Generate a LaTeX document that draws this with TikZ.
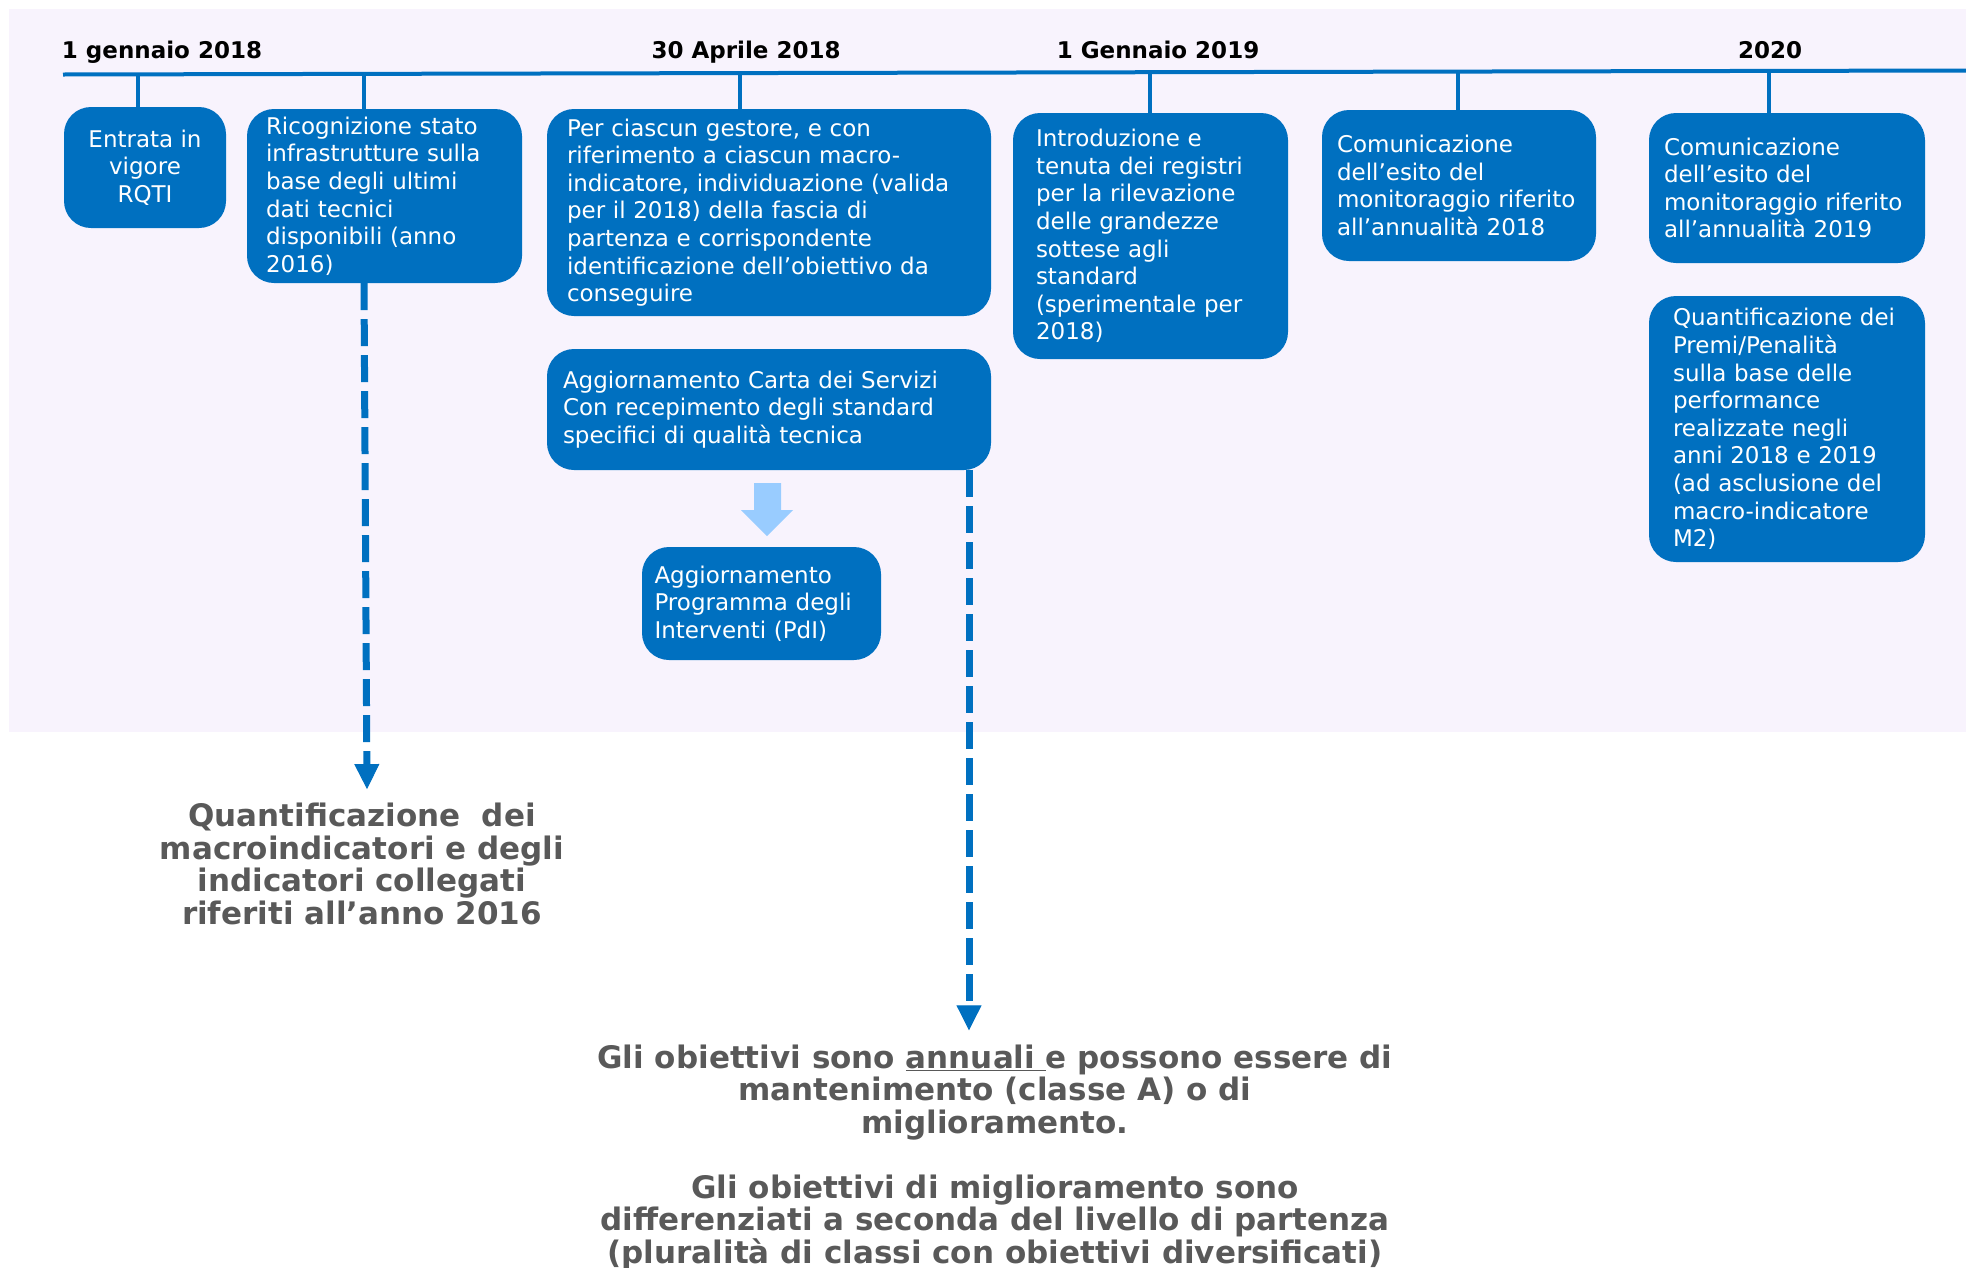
\documentclass[tikz,border=0pt]{standalone}
\usepackage{fontspec}
\setmainfont{DejaVu Sans}
\usetikzlibrary{arrows.meta,positioning}
\definecolor{boxblue}{HTML}{0070C0}
\definecolor{paleback}{HTML}{F8F3FD}
\definecolor{lightarrow}{HTML}{99CCFF}
\definecolor{notegray}{HTML}{595959}

\begin{document}
\begin{tikzpicture}[x=1pt, y=-1pt,
    evbox/.style={rectangle, rounded corners=27, fill=boxblue, text=white,
        inner sep=0pt, align=left, font=\fontsize{23}{27.6}\selectfont},
    datelabel/.style={anchor=base, font=\bfseries\fontsize{23}{27}\selectfont},
    tickline/.style={draw=boxblue, line width=4},
    dasharrow/.style={draw=boxblue, line width=7, dash pattern=on 27pt off 9pt,
        -{Triangle[width=25pt, length=25pt, line width=1pt]}},
    note/.style={text=notegray, align=center, inner sep=14pt,
        font=\bfseries\fontsize{31}{32.5}\selectfont}]

    % background
    \useasboundingbox (0,0) rectangle (1966,1267);
    \fill[paleback] (9,9) rectangle (1966,732);

    % timeline
    \coordinate (tl0) at (63,74.5);
    \coordinate (tl1) at (1966,70.5);
    \draw[tickline] (tl0) -- (tl1);

    \node (d18) [datelabel] at (162,58) {1 gennaio 2018};
    \node (apr18) [datelabel] at (746,58) {30 Aprile 2018};
    \node (gen19) [datelabel] at (1158,58) {1 Gennaio 2019};
    \node (y20) [datelabel] at (1770,58) {2020};

    % events
    \node (rqti) [evbox, align=center, minimum width=162, minimum height=121] at (145,167.5)
        {Entrata in\\vigore\\RQTI};
    \node (ricog) [evbox, minimum width=275, minimum height=174, text width=237] at (384.5,196)
        {Ricognizione stato\\infrastrutture sulla\\base degli ultimi\\dati tecnici\\disponibili (anno\\2016)};
    \node (fascia) [evbox, minimum width=444, minimum height=207, text width=404] at (769,212.5)
        {Per ciascun gestore, e con\\riferimento a ciascun macro-\\indicatore, individuazione (valida\\per il 2018) della fascia di\\partenza e corrispondente\\identificazione dell’obiettivo da\\conseguire};
    \node (registri) [evbox, minimum width=275, minimum height=246, text width=229] at (1150.5,236)
        {Introduzione e\\tenuta dei registri\\per la rilevazione\\delle grandezze\\sottese agli\\standard\\(sperimentale per\\2018)};
    \node (esito18) [evbox, minimum width=274, minimum height=151, text width=244] at (1459,185.5)
        {Comunicazione\\dell’esito del\\monitoraggio riferito\\all’annualità 2018};
    \node (esito19) [evbox, minimum width=276, minimum height=150, text width=246] at (1787,188)
        {Comunicazione\\dell’esito del\\monitoraggio riferito\\all’annualità 2019};
    \node (premi) [evbox, minimum width=276, minimum height=266, text width=228] at (1787,429)
        {Quantificazione dei\\Premi/Penalità\\sulla base delle\\performance\\realizzate negli\\anni 2018 e 2019\\(ad asclusione del\\macro-indicatore\\M2)};
    \node (carta) [evbox, minimum width=444, minimum height=121, text width=412] at (769,409.5)
        {Aggiornamento Carta dei Servizi\\Con recepimento degli standard\\specifici di qualità tecnica};
    \node (pdi) [evbox, minimum width=239, minimum height=113, text width=214] at (761.5,603.5)
        {Aggiornamento\\Programma degli\\Interventi (PdI)};

    % ticks
    \coordinate (t1) at (138,74.3);
    \coordinate (t2) at (364,73.9);
    \coordinate (t3) at (740,73.1);
    \coordinate (t4) at (1150,72.2);
    \coordinate (t5) at (1458,71.6);
    \coordinate (t6) at (1769,70.9);
    \draw[tickline] (t1) -- (t1 |- rqti.north);
    \draw[tickline] (t2) -- (t2 |- ricog.north);
    \draw[tickline] (t3) -- (t3 |- fascia.north);
    \draw[tickline] (t4) -- (t4 |- registri.north);
    \draw[tickline] (t5) -- (t5 |- esito18.north);
    \draw[tickline] (t6) -- (t6 |- esito19.north);

    % carta -> pdi
    \fill[lightarrow] (754,483) -- (781,483) -- (781,510) -- (793,510) -- (767,536)
        -- (741,510) -- (754,510) -- cycle;

    % outcomes
    \node (quant) [note] at (362,864)
        {Quantificazione ~dei\\macroindicatori e degli\\indicatori collegati\\riferiti all’anno 2016};
    \node (obiett) [note] at (995,1157)
        {Gli obiettivi sono \underline{annuali }e possono essere di\\mantenimento (classe A) o di\\miglioramento.\\[32.5pt]Gli obiettivi di miglioramento sono\\differenziati a seconda del livello di partenza\\(pluralità di classi con obiettivi diversificati)};

    \coordinate (drop) at (969,0);
    \draw[dasharrow] (ricog.south -| t2) -- ([xshift=5pt]quant.north);
    \draw[dasharrow] (carta.south -| drop) -- (obiett.north -| drop);
\end{tikzpicture}
\end{document}
